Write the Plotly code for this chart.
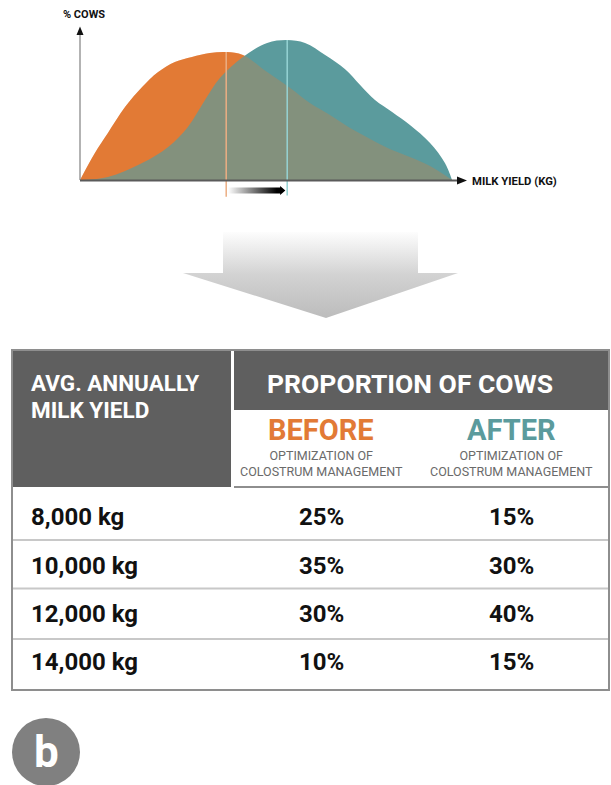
import plotly.graph_objects as go

# ---------------- data ----------------
# distribution curves (relative milk yield 0-100, relative % cows 0-100)
before_x = [0, 4.0, 7.5, 12.1, 16.7, 21.0, 25.5, 30.1, 34.9, 39.5, 43.8, 50.3, 56.5, 61.8, 67.2, 72.6, 78.5, 83.9, 88.7, 94.1, 100]
before_y = [0, 19.3, 33.6, 52.1, 66.4, 77.1, 84.3, 87.9, 90.7, 91.4, 89.3, 77.1, 65.7, 55.0, 46.4, 37.1, 28.6, 21.4, 16.4, 10.0, 0]
after_x = [0.5, 7.5, 16.7, 23.7, 29.0, 33.6, 37.6, 43.8, 50.3, 55.6, 60.5, 65.9, 71.2, 75.3, 79.3, 83.9, 88.7, 94.1, 98.1, 100]
after_y = [0, 2.1, 12.1, 23.6, 37.9, 57.1, 72.9, 87.9, 97.9, 100, 97.9, 89.3, 79.3, 67.9, 57.1, 48.6, 39.3, 26.4, 12.1, 0]
before_mean = 39.3
after_mean = 55.7

# table
yield_labels = ["8,000 kg", "10,000 kg", "12,000 kg", "14,000 kg"]
before_pct = [25, 35, 30, 10]
after_pct = [15, 30, 40, 15]

# ---------------- styling ----------------
W, H = 611, 785
ORANGE = "#E27A36"
TEAL = "#5B9B9D"
DARK = "#5f5f5f"
FONT = "Roboto, Liberation Sans, sans-serif"


def PX(x):
    return x / W


def PY(y):
    return 1 - y / H


# chart axis mapping: x px = 80 + 3.72*x ; y px = 180 - 1.4*y
XR = [-5, 110]
YR = [-22, 112]
xdom = [(80 + 3.72 * XR[0]) / W, (80 + 3.72 * XR[1]) / W]
ydom = [1 - (180 - 1.4 * YR[0]) / H, 1 - (180 - 1.4 * YR[1]) / H]

fig = go.Figure()

curve_line = dict(width=0, shape="spline", smoothing=1.0)
fig.add_trace(go.Scatter(x=before_x, y=before_y, mode="lines", line=curve_line,
                         fill="tozeroy", fillcolor=ORANGE, hoverinfo="skip", showlegend=False))
fig.add_trace(go.Scatter(x=after_x, y=after_y, mode="lines", line=curve_line,
                         fill="tozeroy", fillcolor=TEAL, hoverinfo="skip", showlegend=False))
fig.add_trace(go.Scatter(x=before_x, y=before_y, mode="lines", line=curve_line,
                         fill="tozeroy", fillcolor="rgba(226,122,54,0.30)", hoverinfo="skip", showlegend=False))

# gradient shift arrow between the two means
x0 = before_mean + 0.5
xt = after_mean - 0.5
xh = xt - 1.4
fig.add_trace(go.Scatter(
    x=[x0, xh, xh, xt, xh, xh, x0, x0],
    y=[-5.4, -5.4, -4.3, -7.5, -10.7, -9.6, -9.6, -5.4],
    mode="lines", line=dict(width=0), fill="toself",
    fillgradient=dict(type="horizontal", colorscale=[[0, "rgba(255,255,255,1)"], [0.85, "#000000"], [1, "#000000"]]),
    hoverinfo="skip", showlegend=False))

# big decorative gray arrow (decor axes in pixel units, y measured from bottom)
ax_pts = [(223, 232), (418, 232), (418, 273), (458, 273), (326, 318), (183, 273), (223, 273), (223, 232)]
fig.add_trace(go.Scatter(
    x=[p[0] for p in ax_pts], y=[H - p[1] for p in ax_pts],
    mode="lines", line=dict(width=0), fill="toself",
    fillgradient=dict(type="vertical", colorscale=[[0, "#bcbcbc"], [0.5, "#d2d2d2"], [0.8, "#ececec"], [1, "#fdfdfd"]]),
    hoverinfo="skip", showlegend=False, xaxis="x2", yaxis="y2"))

shapes = []
# mean lines
shapes.append(dict(type="line", xref="x", yref="y", x0=before_mean, x1=before_mean, y0=-12, y1=max(before_y),
                   line=dict(color="#EBAE83", width=1.5)))
shapes.append(dict(type="line", xref="x", yref="y", x0=after_mean, x1=after_mean, y0=-11, y1=max(after_y),
                   line=dict(color="#96D3D4", width=1.5)))
# axes
shapes.append(dict(type="line", xref="paper", yref="paper", x0=PX(80), x1=PX(80), y0=PY(180), y1=PY(30),
                   line=dict(color="#9a9a9a", width=1.5)))
shapes.append(dict(type="line", xref="paper", yref="paper", x0=PX(80), x1=PX(459), y0=PY(180.5), y1=PY(180.5),
                   line=dict(color="#5a5a5a", width=2)))


def tri(pts, color):
    path = "M " + " L ".join(f"{PX(a)},{PY(b)}" for a, b in pts) + " Z"
    return dict(type="path", xref="paper", yref="paper", path=path, fillcolor=color, line=dict(width=0))


shapes.append(tri([(76.5, 35), (80, 26.5), (83.5, 35)], "#111111"))
shapes.append(tri([(457, 176.5), (467, 180.5), (457, 184.5)], "#111111"))

# table
shapes.append(dict(type="rect", xref="paper", yref="paper", x0=PX(12), x1=PX(231), y0=PY(487), y1=PY(350),
                   fillcolor=DARK, line=dict(width=0)))
shapes.append(dict(type="rect", xref="paper", yref="paper", x0=PX(234), x1=PX(609), y0=PY(410), y1=PY(350),
                   fillcolor=DARK, line=dict(width=0)))
for yy in [540, 588.5, 639]:
    shapes.append(dict(type="line", xref="paper", yref="paper", x0=PX(12), x1=PX(609), y0=PY(yy), y1=PY(yy),
                       line=dict(color="#c8c8c8", width=2)))
shapes.append(dict(type="line", xref="paper", yref="paper", x0=PX(234), x1=PX(609), y0=PY(487), y1=PY(487),
                   line=dict(color="#8e8e8e", width=2)))
shapes.append(dict(type="rect", xref="paper", yref="paper", x0=PX(12), x1=PX(609), y0=PY(690), y1=PY(350),
                   line=dict(color="#8e8e8e", width=2)))
# badge
shapes.append(dict(type="circle", xref="paper", yref="paper", x0=PX(12), x1=PX(80), y0=PY(786), y1=PY(718),
                   fillcolor="#808080", line=dict(width=0)))

ann = []


def txt(x, y, s, size, color="#111111", xanchor="left", weight="bold"):
    ann.append(dict(x=PX(x), y=PY(y), xref="paper", yref="paper", text=s, showarrow=False,
                    xanchor=xanchor, yanchor="middle",
                    font=dict(family=FONT, size=size, color=color, weight=weight)))


txt(61, 15, "% COWS", 11)
txt(470, 182, "MILK YIELD (KG)", 11.3)
txt(29, 383, "AVG. ANNUALLY", 22.5, "white")
txt(29, 410, "MILK YIELD", 22.5, "white")
txt(410, 383, "PROPORTION OF COWS", 26.5, "white", "center")
col_before, col_after = 321, 511
txt(col_before, 430, "BEFORE", 29, ORANGE, "center")
txt(col_after, 430, "AFTER", 29, TEAL, "center")
for cx in (col_before, col_after):
    ann.append(dict(x=PX(cx), y=PY(463), xref="paper", yref="paper",
                    text="OPTIMIZATION OF<br>COLOSTRUM MANAGEMENT", showarrow=False,
                    xanchor="center", yanchor="middle",
                    font=dict(family=FONT, size=12.5, color="#6a6a6a")))
row_y = [517, 566, 614, 662]
for i, lab in enumerate(yield_labels):
    txt(29, row_y[i], lab, 24)
    txt(col_before, row_y[i], f"{before_pct[i]}%", 24, xanchor="center")
    txt(col_after, row_y[i], f"{after_pct[i]}%", 24, xanchor="center")
txt(46, 752, "b", 44, "white", "center")

fig.update_layout(
    width=W, height=H, margin=dict(l=0, r=0, t=0, b=0),
    paper_bgcolor="white", plot_bgcolor="rgba(0,0,0,0)",
    xaxis=dict(domain=xdom, range=XR, visible=False, fixedrange=True),
    yaxis=dict(domain=ydom, range=YR, visible=False, fixedrange=True),
    xaxis2=dict(domain=[0, 1], range=[0, W], visible=False, fixedrange=True, anchor="y2"),
    yaxis2=dict(domain=[0, 1], range=[0, H], visible=False, fixedrange=True, anchor="x2"),
    shapes=shapes, annotations=ann,
)

fig.write_html("out.html")
